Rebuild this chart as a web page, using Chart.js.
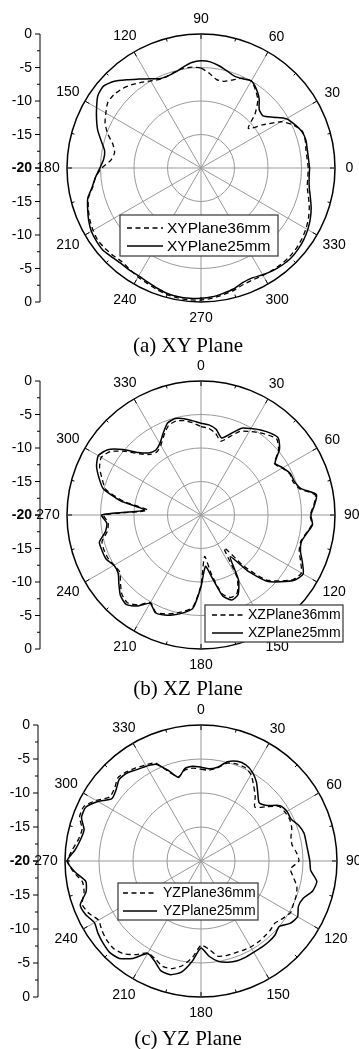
<!DOCTYPE html>
<html>
<head>
<meta charset="utf-8">
<script src="https://cdn.jsdelivr.net/npm/chart.js@4.4.1/dist/chart.umd.min.js"></script>
<style>
  html, body { margin: 0; padding: 0; background: #fff; overflow: hidden; }
  body { width: 359px; height: 1049px; position: relative; }
  canvas { position: absolute; left: 0; }
  .cap { position: absolute; left: 88px; width: 200px; text-align: center;
         font: 21px "Liberation Serif", "Times New Roman", serif; line-height: 24px; color: #000; }
</style>
</head>
<body>
<canvas id="xyChart" width="359" height="340" style="top:0"></canvas>
<canvas id="xzChart" width="359" height="345" style="top:345px"></canvas>
<canvas id="yzChart" width="359" height="345" style="top:690px"></canvas>
<div class="cap" style="top:333px">(a) XY Plane</div>
<div class="cap" style="top:676px">(b) XZ Plane</div>
<div class="cap" style="top:1026px">(c) YZ Plane</div>
<script>
// angles 0..355 step 5 (degrees), values in dB
const angles = Array.from({ length: 72 }, (_, i) => i * 5);

// (a) XY plane
const xy36 = [-4.0,-4.1,-4.1,-3.9,-3.9,-4.8,-6.2,-8.8,-10.8,-8.6,-6.8,-5.8,
              -5.0,-5.2,-6.0,-6.6,-6.6,-5.8,-5.1,-4.9,-4.9,-5.1,-5.4,-5.4,
              -5.0,-4.4,-3.8,-3.3,-3.0,-3.0,-3.6,-4.2,-5.2,-6.4,-6.9,-6.5,
              -5.2,-4.2,-3.6,-2.6,-2.1,-1.7,-1.4,-1.2,-1.3,-1.5,-1.7,-1.5,
              -1.2,-1.0,-0.7,-0.45,-0.3,-0.25,-0.3,-0.5,-0.8,-1.1,-1.5,-1.6,
              -1.5,-1.4,-1.3,-1.3,-1.4,-1.6,-1.9,-2.3,-2.8,-3.4,-3.9,-4.0];
const xy25 = [-3.8,-3.9,-3.9,-3.8,-4.0,-4.6,-5.3,-6.8,-7.9,-7.7,-6.5,-5.6,
              -5.0,-5.3,-5.4,-5.0,-4.5,-4.1,-4.0,-4.2,-4.7,-5.2,-5.4,-5.3,
              -4.6,-3.8,-2.8,-1.7,-1.0,-1.2,-2.0,-2.8,-3.6,-4.6,-5.4,-5.4,
              -4.9,-4.2,-3.5,-2.5,-2.0,-1.5,-1.1,-0.95,-0.9,-1.2,-1.4,-1.4,
              -1.4,-1.2,-0.9,-0.6,-0.5,-0.5,-0.55,-0.7,-1.0,-1.3,-1.8,-1.9,
              -1.6,-1.3,-1.1,-1.0,-1.1,-1.3,-1.6,-2.0,-2.5,-3.1,-3.6,-3.8];

// (b) XZ plane
const xz36 = [-6.8,-7.0,-7.6,-8.6,-7.6,-6.2,-5.6,-5.0,-4.4,-4.0,-4.9,-6.6,
              -6.0,-5.4,-5.4,-4.8,-2.7,-3.1,-3.7,-3.4,-4.1,-4.6,-4.4,-3.6,
              -2.7,-3.2,-4.7,-6.3,-10.0,-14.0,-9.2,-7.2,-6.9,-7.8,-11.0,-13.8,
              -9.5,-6.2,-5.4,-4.8,-4.3,-4.0,-4.9,-3.6,-2.9,-3.3,-4.3,-5.2,
              -5.0,-4.7,-4.6,-4.7,-5.8,-6.1,-5.5,-12.0,-8.3,-5.3,-4.3,-3.3,
              -2.8,-3.5,-5.2,-7.1,-8.2,-8.5,-8.0,-6.9,-5.8,-5.5,-5.7,-6.2];
const xz25 = [-6.3,-6.5,-7.0,-8.1,-7.1,-5.7,-5.1,-4.5,-4.0,-3.7,-4.7,-6.5,
              -5.9,-5.3,-5.2,-4.6,-2.5,-3.0,-3.6,-3.3,-4.0,-4.5,-4.2,-3.3,
              -2.4,-3.0,-4.5,-6.0,-9.0,-12.4,-8.8,-6.9,-6.5,-7.5,-10.5,-12.3,
              -9.3,-6.0,-5.2,-4.6,-4.1,-3.9,-4.8,-3.4,-2.6,-3.0,-4.0,-4.9,
              -5.0,-4.4,-4.3,-4.3,-5.5,-5.9,-5.2,-11.5,-7.8,-4.9,-3.8,-2.8,
              -2.3,-3.0,-4.8,-6.8,-7.9,-8.2,-7.7,-6.6,-5.4,-5.1,-5.4,-5.9];

// (c) YZ plane
const yz36 = [-6.5,-6.6,-6.1,-5.1,-4.8,-4.8,-5.3,-6.5,-7.6,-8.8,-7.6,-6.0,
              -5.7,-5.6,-5.8,-6.3,-6.4,-5.9,-5.6,-6.8,-6.2,-5.4,-5.1,-5.0,
              -4.8,-5.3,-5.8,-5.6,-5.5,-5.4,-5.4,-5.5,-5.6,-5.6,-5.8,-7.0,
              -7.6,-5.8,-4.4,-3.6,-3.5,-4.1,-4.4,-3.2,-2.2,-1.8,-1.9,-2.2,
              -2.6,-1.8,-1.4,-2.2,-2.3,-1.2,-0.4,-1.0,-1.7,-1.9,-1.0,-1.0,
              -2.2,-3.6,-3.4,-2.7,-2.9,-3.3,-3.7,-4.1,-6.0,-7.2,-6.4,-6.3];
const yz25 = [-6.2,-6.4,-6.0,-4.9,-4.4,-4.4,-4.9,-5.8,-7.0,-7.9,-7.3,-5.8,
              -5.4,-5.4,-4.7,-4.3,-4.3,-4.2,-4.0,-3.8,-2.7,-3.0,-4.0,-4.2,
              -3.6,-4.0,-5.0,-4.6,-4.5,-4.5,-4.5,-4.4,-4.4,-4.6,-5.0,-5.9,
              -7.2,-5.2,-3.4,-2.7,-2.8,-3.8,-4.3,-2.5,-1.3,-1.0,-1.2,-1.5,
              -1.9,-1.3,-1.1,-2.5,-2.8,-1.4,-0.3,-1.4,-2.0,-2.2,-1.3,-1.3,
              -2.5,-4.0,-3.7,-3.0,-3.1,-3.6,-3.9,-4.3,-5.8,-7.3,-6.2,-6.0];

const rTicks = [-20, -15, -10, -5, 0];

// radar goes clockwise from the top; reorder from a start angle and direction
function radarOrder(list, startDeg, dir) {
  const s = startDeg / 5;
  return list.map((_, i) => list[(((s + dir * i) % 72) + 72) % 72]);
}

const FONT = '"Liberation Sans", Arial, sans-serif';

const polarDecor = {
  id: 'polarDecor',
  afterDraw(chart, args, opts) {
    const s = chart.scales.r, ctx = chart.ctx;
    const R = s.drawingArea, cx = s.xCenter, cy = s.yCenter;
    const labels = chart.data.labels, n = labels.length;
    ctx.save();

    // small ticks inside the outer circle
    ctx.strokeStyle = '#000'; ctx.lineWidth = 1;
    for (let i = 0; i < n; i += 3) {
      const len = i % 6 === 0 ? 5 : 3;
      const a = s.getPointPosition(i, R), b = s.getPointPosition(i, R - len);
      ctx.beginPath(); ctx.moveTo(a.x, a.y); ctx.lineTo(b.x, b.y); ctx.stroke();
    }

    // angle labels every 30 deg
    ctx.font = '14px ' + FONT; ctx.fillStyle = '#000';
    ctx.textAlign = 'center'; ctx.textBaseline = 'middle';
    for (let i = 0; i < n; i += 6) {
      const t = labels[i], w = ctx.measureText(t).width, h = 11;
      const ang = s.getPointPosition(i, 1).angle;
      const d = R + 12 + 0.3 * (Math.abs(Math.cos(ang)) * w + Math.abs(Math.sin(ang)) * h);
      const p = s.getPointPosition(i, d);
      ctx.fillText(t, p.x, p.y + 0.5);
    }

    // side dB axis: 0 at top, -20 at centre, 0 at bottom
    const ax = cx - R - 27;
    ctx.beginPath(); ctx.moveTo(ax, cy - R); ctx.lineTo(ax, cy + R); ctx.stroke();
    ctx.textAlign = 'right';
    for (let v = -20; v <= 0; v += 2.5) {
      const dist = s.getDistanceFromCenterForValue(v);
      const major = v % 5 === 0;
      [cy - dist, cy + dist].forEach(y => {
        ctx.beginPath(); ctx.moveTo(ax, y); ctx.lineTo(ax - (major ? 5 : 3), y); ctx.stroke();
      });
      if (!major) continue;
      if (v === -20) {
        ctx.font = 'bold 14px ' + FONT;
        ctx.fillText(String(v), ax - 8, cy + 0.5);
        ctx.font = '14px ' + FONT;
      } else {
        ctx.fillText(String(v), ax - 8, cy - dist + 0.5);
        ctx.fillText(String(v), ax - 8, cy + dist + 0.5);
      }
    }

    // legend box
    const L = opts.legend;
    ctx.fillStyle = '#fff'; ctx.fillRect(L.x, L.y, L.w, L.h);
    ctx.strokeStyle = '#444'; ctx.lineWidth = 1.3; ctx.strokeRect(L.x, L.y, L.w, L.h);
    ctx.font = L.size + 'px ' + FONT; ctx.textAlign = 'left'; ctx.fillStyle = '#000';
    chart.data.datasets.forEach((ds, k) => {
      const y = L.y + L.rows[k];
      ctx.strokeStyle = '#000'; ctx.lineWidth = ds.borderWidth;
      ctx.setLineDash(ds.borderDash || []);
      ctx.beginPath(); ctx.moveTo(L.x + L.line[0], y); ctx.lineTo(L.x + L.line[1], y); ctx.stroke();
      ctx.setLineDash([]);
      ctx.fillText(ds.label, L.x + L.tx, y + 0.5);
    });
    ctx.restore();
  }
};

function polarChart(id, order, series, names, pad, legend) {
  const labels = radarOrder(angles, order[0], order[1]).map(String);
  const ds = series.map((vals, k) => ({
    label: names[k],
    data: radarOrder(vals, order[0], order[1]),
    borderColor: '#000',
    backgroundColor: 'rgba(0,0,0,0)',
    borderWidth: k === 0 ? 1.3 : 1.5,
    borderDash: k === 0 ? [5, 3.5] : [],
    pointRadius: 0,
    fill: false,
    tension: 0.2
  }));
  return new Chart(document.getElementById(id), {
    type: 'radar',
    data: { labels, datasets: ds },
    options: {
      responsive: false, animation: false, devicePixelRatio: 1, events: [],
      layout: { padding: pad },
      plugins: { legend: { display: false }, tooltip: { enabled: false }, polarDecor: { legend } },
      scales: {
        r: {
          min: rTicks[0], max: rTicks[rTicks.length - 1],
          beginAtZero: false,
          ticks: { display: false, stepSize: 5 },
          pointLabels: { display: false },
          grid: {
            circular: true,
            color: c => (c.tick && c.tick.value === 0 ? '#000' : '#999'),
            lineWidth: c => (c.tick && c.tick.value === 0 ? 1.5 : 1)
          },
          angleLines: {
            color: '#999',
            lineWidth: c => (c.index % 6 === 0 ? 1 : 0)
          }
        }
      }
    },
    plugins: [polarDecor]
  });
}

polarChart('xyChart', [90, -1], [xy36, xy25], ['XYPlane36mm', 'XYPlane25mm'],
  { left: 67, right: 24, top: 34, bottom: 38 },
  { x: 120, y: 215, w: 158, h: 41, size: 15.5, rows: [13, 31], line: [7, 43], tx: 47 });

polarChart('xzChart', [0, 1], [xz36, xz25], ['XZPlane36mm', 'XZPlane25mm'],
  { left: 67, right: 24, top: 36, bottom: 41 },
  { x: 205, y: 260, w: 138, h: 37, size: 14, rows: [10, 28], line: [7, 38], tx: 43 });

polarChart('yzChart', [0, 1], [yz36, yz25], ['YZPlane36mm', 'YZPlane25mm'],
  { left: 65, right: 22, top: 35, bottom: 38 },
  { x: 118, y: 193, w: 140, h: 37, size: 14, rows: [10, 28], line: [5, 39], tx: 45 });
</script>
</body>
</html>
